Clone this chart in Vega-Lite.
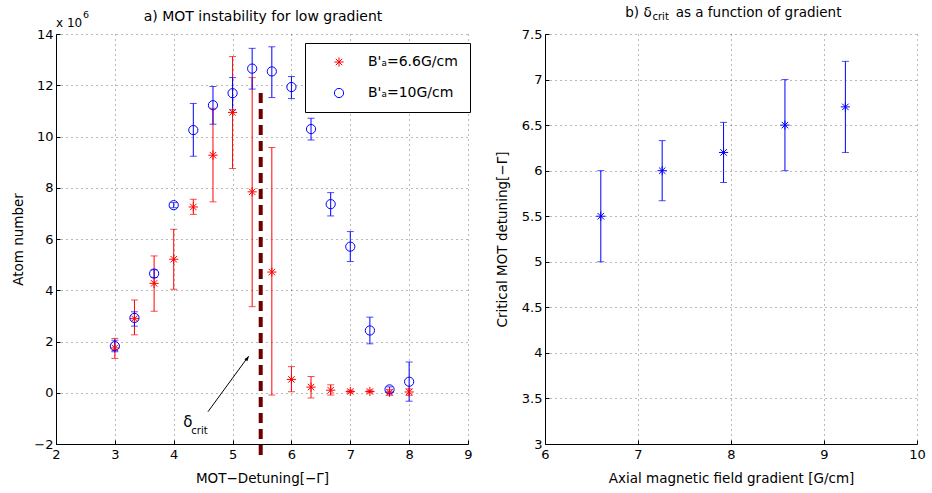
{
  "$schema": "https://vega.github.io/schema/vega-lite/v6.json",
  "padding": {"left": 11, "top": 5, "right": 4, "bottom": 2},
  "background": "white",
  "spacing": 22,
  "config": {
    "font": "DejaVu Sans",
    "view": {"stroke": null},
    "axis": {
      "labelFont": "DejaVu Sans", "titleFont": "DejaVu Sans",
      "labelFontSize": 13, "titleFontSize": 13.5, "titleFontWeight": "normal",
      "labelColor": "#000", "titleColor": "#000", "domainColor": "#000", "tickColor": "#000",
      "gridColor": "#000", "gridDash": [1, 4], "gridOpacity": 0.55, "gridWidth": 1,
      "tickSize": -4, "domainWidth": 1, "labelFlush": false, "format": "~g"
    },
    "axisX": {"labelPadding": 8, "titlePadding": 10},
    "axisY": {"labelPadding": 7, "titlePadding": 8}
  },
  "datasets": {
    "mot": [
      {"series": "B'ₐ=6.6G/cm", "det": 3.0, "n": 1.75, "lo": 1.34, "hi": 2.12},
      {"series": "B'ₐ=6.6G/cm", "det": 3.333, "n": 2.89, "lo": 2.26, "hi": 3.62},
      {"series": "B'ₐ=6.6G/cm", "det": 3.667, "n": 4.27, "lo": 3.18, "hi": 5.34},
      {"series": "B'ₐ=6.6G/cm", "det": 4.0, "n": 5.21, "lo": 4.04, "hi": 6.38},
      {"series": "B'ₐ=6.6G/cm", "det": 4.333, "n": 7.25, "lo": 6.96, "hi": 7.55},
      {"series": "B'ₐ=6.6G/cm", "det": 4.667, "n": 9.27, "lo": 7.45, "hi": 11.1},
      {"series": "B'ₐ=6.6G/cm", "det": 5.0, "n": 10.94, "lo": 8.75, "hi": 13.12},
      {"series": "B'ₐ=6.6G/cm", "det": 5.333, "n": 7.84, "lo": 3.36, "hi": 12.3},
      {"series": "B'ₐ=6.6G/cm", "det": 5.667, "n": 4.71, "lo": -0.09, "hi": 9.57},
      {"series": "B'ₐ=6.6G/cm", "det": 6.0, "n": 0.52, "lo": 0.04, "hi": 1.02},
      {"series": "B'ₐ=6.6G/cm", "det": 6.333, "n": 0.22, "lo": -0.2, "hi": 0.63},
      {"series": "B'ₐ=6.6G/cm", "det": 6.667, "n": 0.1, "lo": -0.09, "hi": 0.31},
      {"series": "B'ₐ=6.6G/cm", "det": 7.0, "n": 0.05, "lo": 0.0, "hi": 0.1},
      {"series": "B'ₐ=6.6G/cm", "det": 7.333, "n": 0.05, "lo": 0.0, "hi": 0.1},
      {"series": "B'ₐ=6.6G/cm", "det": 7.667, "n": 0.02, "lo": -0.1, "hi": 0.12},
      {"series": "B'ₐ=6.6G/cm", "det": 8.0, "n": 0.03, "lo": -0.1, "hi": 0.15},
      {"series": "B'ₐ=10G/cm", "det": 3.0, "n": 1.82, "lo": 1.6, "hi": 2.05},
      {"series": "B'ₐ=10G/cm", "det": 3.333, "n": 2.92, "lo": 2.6, "hi": 3.16},
      {"series": "B'ₐ=10G/cm", "det": 3.667, "n": 4.65, "lo": 4.5, "hi": 4.8},
      {"series": "B'ₐ=10G/cm", "det": 4.0, "n": 7.32, "lo": 7.22, "hi": 7.42},
      {"series": "B'ₐ=10G/cm", "det": 4.333, "n": 10.25, "lo": 9.23, "hi": 11.29},
      {"series": "B'ₐ=10G/cm", "det": 4.667, "n": 11.22, "lo": 10.48, "hi": 11.95},
      {"series": "B'ₐ=10G/cm", "det": 5.0, "n": 11.69, "lo": 11.04, "hi": 12.3},
      {"series": "B'ₐ=10G/cm", "det": 5.333, "n": 12.65, "lo": 11.85, "hi": 13.44},
      {"series": "B'ₐ=10G/cm", "det": 5.667, "n": 12.54, "lo": 11.52, "hi": 13.5},
      {"series": "B'ₐ=10G/cm", "det": 6.0, "n": 11.93, "lo": 11.48, "hi": 12.34},
      {"series": "B'ₐ=10G/cm", "det": 6.333, "n": 10.29, "lo": 9.86, "hi": 10.71},
      {"series": "B'ₐ=10G/cm", "det": 6.667, "n": 7.36, "lo": 6.9, "hi": 7.81},
      {"series": "B'ₐ=10G/cm", "det": 7.0, "n": 5.7, "lo": 5.12, "hi": 6.29},
      {"series": "B'ₐ=10G/cm", "det": 7.333, "n": 2.43, "lo": 1.91, "hi": 2.95},
      {"series": "B'ₐ=10G/cm", "det": 7.667, "n": 0.13, "lo": 0.03, "hi": 0.23},
      {"series": "B'ₐ=10G/cm", "det": 8.0, "n": 0.43, "lo": -0.33, "hi": 1.2}
    ],
    "crit": [
      {"grad": 6.6, "d": 5.5, "lo": 5.0, "hi": 6.0},
      {"grad": 7.26, "d": 6.0, "lo": 5.67, "hi": 6.33},
      {"grad": 7.92, "d": 6.2, "lo": 5.87, "hi": 6.53},
      {"grad": 8.58, "d": 6.5, "lo": 6.0, "hi": 7.0},
      {"grad": 9.23, "d": 6.7, "lo": 6.2, "hi": 7.2}
    ]
  },
  "hconcat": [
    {
      "width": 412, "height": 410,
      "layer": [
        {
          "data": {"name": "mot"},
          "mark": {"type": "rule", "strokeWidth": 1},
          "encoding": {
            "x": {"field": "det", "type": "quantitative", "scale": {"domain": [2, 9], "nice": false},
                  "axis": {"values": [2, 3, 4, 5, 6, 7, 8, 9], "title": "MOT−Detuning[−Γ]", "grid": true}},
            "y": {"field": "lo", "type": "quantitative", "scale": {"domain": [-2, 14], "nice": false},
                  "axis": {"values": [-2, 0, 2, 4, 6, 8, 10, 12, 14], "title": "Atom number", "grid": true}},
            "y2": {"field": "hi"},
            "color": {"condition": {"test": "datum.series === \"B'ₐ=6.6G/cm\"", "value": "#ff0000"}, "value": "#0000ff"}
          }
        },
        {
          "data": {"name": "mot"},
          "mark": {"type": "tick", "orient": "horizontal", "size": 7, "thickness": 1},
          "encoding": {
            "x": {"field": "det", "type": "quantitative"},
            "y": {"field": "lo", "type": "quantitative"},
            "color": {"condition": {"test": "datum.series === \"B'ₐ=6.6G/cm\"", "value": "#ff0000"}, "value": "#0000ff"}
          }
        },
        {
          "data": {"name": "mot"},
          "mark": {"type": "tick", "orient": "horizontal", "size": 7, "thickness": 1},
          "encoding": {
            "x": {"field": "det", "type": "quantitative"},
            "y": {"field": "hi", "type": "quantitative"},
            "color": {"condition": {"test": "datum.series === \"B'ₐ=6.6G/cm\"", "value": "#ff0000"}, "value": "#0000ff"}
          }
        },
        {
          "data": {"name": "mot"},
          "mark": {"type": "point", "filled": false, "strokeWidth": 1, "size": 85, "opacity": 1},
          "encoding": {
            "x": {"field": "det", "type": "quantitative"},
            "y": {"field": "n", "type": "quantitative"},
            "color": {"field": "series", "type": "nominal",
                      "scale": {"domain": ["B'ₐ=6.6G/cm", "B'ₐ=10G/cm"], "range": ["#ff0000", "#0000ff"]},
                      "legend": {"title": null, "orient": "none", "legendX": 249, "legendY": 9,
                                 "strokeColor": "#000", "fillColor": "#fff",
                                 "padding": 12, "labelFontSize": 14, "labelFont": "DejaVu Sans", "labelColor": "#000",
                                 "symbolOffset": 15, "labelOffset": 22, "rowPadding": 17, "symbolStrokeWidth": 1, "symbolSize": 85}},
            "shape": {"field": "series", "type": "nominal",
                      "scale": {"domain": ["B'ₐ=6.6G/cm", "B'ₐ=10G/cm"],
                                "range": ["M-1,0L1,0M0,-1L0,1M-0.7,-0.7L0.7,0.7M-0.7,0.7L0.7,-0.7", "circle"]}}
          }
        },
        {
          "data": {"values": [{"det": 5.478, "top": 11.71, "bottom": -2.43}]},
          "mark": {"type": "rule", "color": "#6a0000", "strokeWidth": 4, "strokeDash": [10, 6]},
          "encoding": {
            "x": {"field": "det", "type": "quantitative"},
            "y": {"field": "bottom", "type": "quantitative"},
            "y2": {"field": "top"}
          }
        },
        {
          "data": {"values": [{"x1": 4.582, "y1": -0.74, "x2": 5.27, "y2": 1.42}]},
          "mark": {"type": "rule", "color": "#000", "strokeWidth": 1},
          "encoding": {
            "x": {"field": "x1", "type": "quantitative"},
            "y": {"field": "y1", "type": "quantitative"},
            "x2": {"field": "x2"},
            "y2": {"field": "y2"}
          }
        },
        {
          "data": {"values": [{"x": 5.279, "y": 1.434}]},
          "mark": {"type": "point", "shape": "M0,0L-0.35,1L0.35,1Z", "filled": true, "color": "#000", "size": 110, "angle": 36.4, "opacity": 1},
          "encoding": {
            "x": {"field": "x", "type": "quantitative"},
            "y": {"field": "y", "type": "quantitative"}
          }
        },
        {
          "data": {"values": [{"x": 4.163, "y": -1.325, "t": "δ"}]},
          "mark": {"type": "text", "align": "left", "baseline": "alphabetic", "fontSize": 15, "color": "#000"},
          "encoding": {
            "x": {"field": "x", "type": "quantitative"},
            "y": {"field": "y", "type": "quantitative"},
            "text": {"field": "t"}
          }
        },
        {
          "data": {"values": [{"x": 4.299, "y": -1.61, "t": "crit"}]},
          "mark": {"type": "text", "align": "left", "baseline": "alphabetic", "fontSize": 10, "color": "#000"},
          "encoding": {
            "x": {"field": "x", "type": "quantitative"},
            "y": {"field": "y", "type": "quantitative"},
            "text": {"field": "t"}
          }
        },
        {
          "data": {"values": [{"x": 2.0, "y": 14.27, "t": "x 10"}]},
          "mark": {"type": "text", "align": "left", "baseline": "alphabetic", "fontSize": 12, "color": "#000"},
          "encoding": {
            "x": {"field": "x", "type": "quantitative"},
            "y": {"field": "y", "type": "quantitative"},
            "text": {"field": "t"}
          }
        },
        {
          "data": {"values": [{"x": 2.46, "y": 14.63, "t": "6"}]},
          "mark": {"type": "text", "align": "left", "baseline": "alphabetic", "fontSize": 9.5, "color": "#000"},
          "encoding": {
            "x": {"field": "x", "type": "quantitative"},
            "y": {"field": "y", "type": "quantitative"},
            "text": {"field": "t"}
          }
        },
        {
          "data": {"values": [{"x": 5.517, "y": 14.52, "t": "a) MOT instability for low gradient"}]},
          "mark": {"type": "text", "align": "center", "baseline": "alphabetic", "fontSize": 14, "color": "#000"},
          "encoding": {
            "x": {"field": "x", "type": "quantitative"},
            "y": {"field": "y", "type": "quantitative"},
            "text": {"field": "t"}
          }
        }
      ]
    },
    {
      "width": 372, "height": 410,
      "layer": [
        {
          "data": {"name": "crit"},
          "mark": {"type": "rule", "strokeWidth": 1, "color": "#0000ff"},
          "encoding": {
            "x": {"field": "grad", "type": "quantitative", "scale": {"domain": [6, 10], "nice": false},
                  "axis": {"values": [6, 7, 8, 9, 10], "title": "Axial magnetic field gradient [G/cm]", "grid": true}},
            "y": {"field": "lo", "type": "quantitative", "scale": {"domain": [3, 7.5], "nice": false},
                  "axis": {"values": [3, 3.5, 4, 4.5, 5, 5.5, 6, 6.5, 7, 7.5], "title": "Critical MOT detuning[−Γ]", "grid": true, "titlePadding": 12}},
            "y2": {"field": "hi"}
          }
        },
        {
          "data": {"name": "crit"},
          "mark": {"type": "tick", "orient": "horizontal", "size": 7, "thickness": 1, "color": "#0000ff"},
          "encoding": {
            "x": {"field": "grad", "type": "quantitative"},
            "y": {"field": "lo", "type": "quantitative"}
          }
        },
        {
          "data": {"name": "crit"},
          "mark": {"type": "tick", "orient": "horizontal", "size": 7, "thickness": 1, "color": "#0000ff"},
          "encoding": {
            "x": {"field": "grad", "type": "quantitative"},
            "y": {"field": "hi", "type": "quantitative"}
          }
        },
        {
          "data": {"name": "crit"},
          "mark": {"type": "point", "filled": false, "strokeWidth": 1, "size": 85, "color": "#0000ff", "opacity": 1,
                   "shape": "M-1,0L1,0M0,-1L0,1M-0.7,-0.7L0.7,0.7M-0.7,0.7L0.7,-0.7"},
          "encoding": {
            "x": {"field": "grad", "type": "quantitative"},
            "y": {"field": "d", "type": "quantitative"}
          }
        },
        {
          "data": {"values": [{"x": 7.147, "y": 7.69, "t": "b) δ"}]},
          "mark": {"type": "text", "align": "right", "baseline": "alphabetic", "fontSize": 13.5, "color": "#000"},
          "encoding": {
            "x": {"field": "x", "type": "quantitative"},
            "y": {"field": "y", "type": "quantitative"},
            "text": {"field": "t"}
          }
        },
        {
          "data": {"values": [{"x": 7.156, "y": 7.654, "t": "crit"}]},
          "mark": {"type": "text", "align": "left", "baseline": "alphabetic", "fontSize": 10, "color": "#000"},
          "encoding": {
            "x": {"field": "x", "type": "quantitative"},
            "y": {"field": "y", "type": "quantitative"},
            "text": {"field": "t"}
          }
        },
        {
          "data": {"values": [{"x": 7.405, "y": 7.69, "t": "as a function of gradient"}]},
          "mark": {"type": "text", "align": "left", "baseline": "alphabetic", "fontSize": 13.5, "color": "#000"},
          "encoding": {
            "x": {"field": "x", "type": "quantitative"},
            "y": {"field": "y", "type": "quantitative"},
            "text": {"field": "t"}
          }
        }
      ]
    }
  ]
}
